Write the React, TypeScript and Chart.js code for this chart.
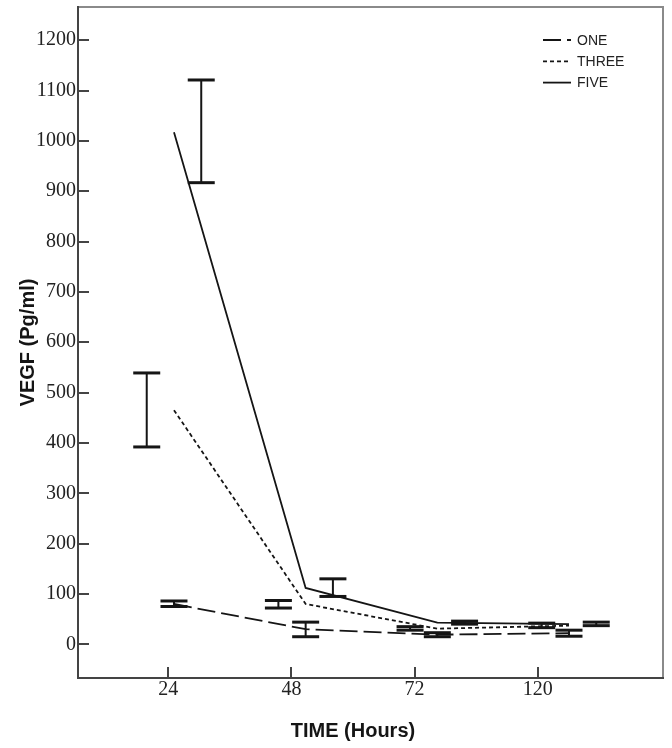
import React, { useEffect, useRef } from 'react';
import { Chart, registerables } from 'chart.js';

Chart.register(...registerables);

// ---- data ----
const timeLabels = ['24', '48', '72', '120'];
const yTickValues = [0, 100, 200, 300, 400, 500, 600, 700, 800, 900, 1000, 1100, 1200];
const seriesNames = ['ONE', 'THREE', 'FIVE'];

const oneMean = [80, 30, 19, 22];
const oneLow = [75, 15, 15, 16];
const oneHigh = [86, 44, 23, 28];

const threeMean = [465, 80, 31, 37];
const threeLow = [392, 72, 28, 33];
const threeHigh = [539, 87, 35, 42];

const fiveMean = [1017, 112, 43, 40];
const fiveLow = [917, 95, 40, 37];
const fiveHigh = [1121, 130, 46, 44];

// ---- styles ----
const INK = '#151515';
const AXIS = '#444';
const FRAME = '#8a8a8a';
const dashes: number[][] = [[18, 6], [4, 3], []];
const clusterOffsets = [0, -0.207, 0.207];

const means = [oneMean, threeMean, fiveMean];
const lows = [oneLow, threeLow, fiveLow];
const highs = [oneHigh, threeHigh, fiveHigh];

const serif = "'Liberation Serif', 'Times New Roman', serif";
const sans = "'Liberation Sans', Arial, sans-serif";

const framePlugin = {
  id: 'frame',
  beforeDraw(chart: any) {
    const { ctx, chartArea } = chart;
    ctx.save();
    ctx.strokeStyle = FRAME;
    ctx.lineWidth = 2;
    ctx.strokeRect(chartArea.left, chartArea.top, chartArea.right - chartArea.left, chartArea.bottom - chartArea.top);
    ctx.restore();
  },
};

const overlayPlugin = {
  id: 'overlay',
  afterDraw(chart: any) {
    const { ctx, chartArea, scales } = chart;
    ctx.save();
    // legend inside the plot, top right
    ctx.font = `14px ${sans}`;
    ctx.textBaseline = 'middle';
    ctx.textAlign = 'left';
    seriesNames.forEach((name, s) => {
      const y = chartArea.top + 33 + s * 21.3;
      const x0 = chartArea.right - 120;
      ctx.beginPath();
      ctx.setLineDash(dashes[s]);
      ctx.lineWidth = 1.8;
      ctx.strokeStyle = INK;
      ctx.moveTo(x0, y);
      ctx.lineTo(x0 + 28, y);
      ctx.stroke();
      ctx.setLineDash([]);
      ctx.fillStyle = '#222';
      ctx.fillText(name, x0 + 34, y + 1);
    });
    // x axis title, centred over the tick range
    const xs = scales.x;
    const cx = (xs.getPixelForValue(0) + xs.getPixelForValue(timeLabels.length - 1)) / 2;
    ctx.font = `bold 20px ${sans}`;
    ctx.textAlign = 'center';
    ctx.fillStyle = INK;
    ctx.fillText('TIME (Hours)', cx, 731);
    ctx.restore();
  },
};

const noPad = (s: any) => {
  s.paddingTop = 0;
  s.paddingBottom = 0;
  s.paddingLeft = 0;
  s.paddingRight = 0;
};

export default function App() {
  const ref = useRef<HTMLCanvasElement>(null);

  useEffect(() => {
    const lineSets = seriesNames.map((name, s) => ({
      type: 'line' as const,
      label: name,
      xAxisID: 'xd',
      yAxisID: 'y',
      data: means[s].map((v, i) => ({ x: i, y: v })),
      borderColor: INK,
      borderWidth: 1.8,
      borderDash: dashes[s],
      pointRadius: 0,
      fill: false,
      tension: 0,
    }));

    const errSets = seriesNames.map((name, s) => ({
      type: 'line' as const,
      label: name + ' CI',
      xAxisID: 'xd',
      yAxisID: 'y',
      data: lows[s].flatMap((lo, i) => [
        { x: i + clusterOffsets[s], y: lo },
        { x: i + clusterOffsets[s], y: highs[s][i] },
        { x: i + clusterOffsets[s], y: null },
      ]),
      borderColor: INK,
      borderWidth: 2,
      spanGaps: false,
      pointStyle: 'line',
      pointRadius: 13.5,
      pointBorderWidth: 3,
      pointBorderColor: INK,
      pointBackgroundColor: INK,
      fill: false,
    }));

    const chart = new Chart(ref.current as HTMLCanvasElement, {
      type: 'line',
      data: { datasets: [...lineSets, ...errSets] as any },
      options: {
        animation: false,
        responsive: true,
        maintainAspectRatio: false,
        events: [],
        layout: { autoPadding: false, padding: { top: 7, right: 9, left: 0, bottom: 0 } },
        plugins: { legend: { display: false }, tooltip: { enabled: false } },
        scales: {
          x: {
            type: 'linear',
            position: 'bottom',
            min: -0.733,
            max: 4.018,
            afterBuildTicks: (s: any) => {
              s.ticks = timeLabels.map((_, i) => ({ value: i }));
            },
            afterFit: (s: any) => {
              s.height = 70;
              noPad(s);
            },
            ticks: {
              callback: (_v: any, i: number) => timeLabels[i],
              font: { family: serif, size: 20 },
              color: '#222',
              padding: 11,
              autoSkip: false,
              maxRotation: 0,
            },
            grid: { drawOnChartArea: false, drawTicks: true, tickLength: -11, color: AXIS, lineWidth: 2 },
            border: { display: true, color: AXIS, width: 2 },
          },
          xd: {
            type: 'linear',
            display: false,
            min: -0.729,
            max: 3.714,
            afterFit: noPad,
          },
          y: {
            type: 'linear',
            position: 'left',
            min: -67,
            max: 1266,
            afterBuildTicks: (s: any) => {
              s.ticks = yTickValues.map((v) => ({ value: v }));
            },
            afterFit: (s: any) => {
              s.width = 78;
              noPad(s);
            },
            ticks: {
              callback: (v: any) => String(v),
              font: { family: serif, size: 20 },
              color: '#222',
              padding: 13,
            },
            grid: { drawOnChartArea: false, drawTicks: true, tickLength: -11, color: AXIS, lineWidth: 2 },
            border: { display: true, color: AXIS, width: 2 },
            title: {
              display: true,
              text: 'VEGF (Pg/ml)',
              font: { family: sans, size: 20, weight: 'bold' },
              color: INK,
              padding: { top: 16, bottom: 0 },
            },
          },
        },
      } as any,
      plugins: [framePlugin, overlayPlugin],
    });
    return () => chart.destroy();
  }, []);

  return (
    <div style={{ position: 'absolute', left: 0, top: 0, width: 672, height: 748, background: '#fff' }}>
      <canvas ref={ref} />
    </div>
  );
}
